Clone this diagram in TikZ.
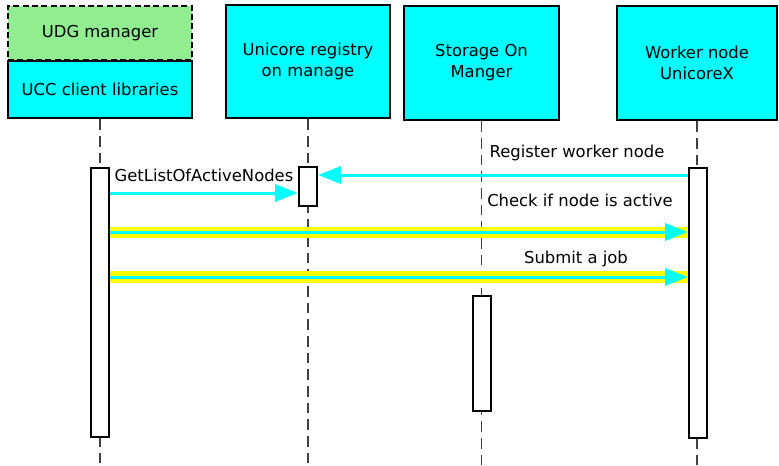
\documentclass[tikz,border=0pt]{standalone}
\usepackage{fontspec}
\setmainfont{DejaVu Sans}
\usepackage{tikz}
\usetikzlibrary{arrows.meta}
\definecolor{udggreen}{HTML}{90EE90}
\definecolor{aqua}{RGB}{0,255,255}
\definecolor{bandyellow}{RGB}{255,255,0}

\begin{document}
\begin{tikzpicture}[x=0.75pt, y=-0.75pt, font=\fontsize{12.3}{15.8}\selectfont,
  actor/.style={draw, line width=1.8pt, fill=aqua, align=center, inner sep=0pt},
  udgbox/.style={draw, line width=2pt, dash pattern=on 4.5pt off 2.5pt, fill=udggreen, inner sep=0pt},
  bar/.style={draw, line width=1.8pt, fill=white, minimum width=13.5pt, inner sep=0pt},
  life/.style={black!75, line width=1.2pt, dash pattern=on 8pt off 4.5pt},
  msg/.style={aqua, line width=2.25pt, -{Triangle[length=17pt, width=12.75pt]}},
  band/.style={bandyellow, line width=8.25pt}]
\useasboundingbox (0,0) rectangle (779,465);
\coordinate (bottom) at (0,465);

\node[udgbox, minimum width=138pt, minimum height=40.5pt] (udg) at (100,33) {UDG manager};
\node[actor, minimum width=138pt, minimum height=42.75pt] (ucc) at (100,89.5) {UCC client libraries};
\node[actor, minimum width=123pt, minimum height=84.75pt] (reg) at (308,61.5) {Unicore registry\\ on manage};
\node[actor, minimum width=116.25pt, minimum height=85.5pt] (sto) at (481.5,63) {Storage On\\ Manger};
\node[actor, minimum width=120pt, minimum height=85.5pt] (wrk) at (697,63) {Worker node\\ UnicoreX};

\foreach \a in {ucc,reg,sto,wrk}
  \draw[life] (\a.south) -- (\a.south |- bottom);

\node[bar, minimum height=201.75pt] (uccbar) at (100,302.5) {};
\node[bar, minimum height=29.25pt] (regbar) at (308,186.5) {};
\node[bar, minimum height=86.25pt] (stobar) at (482,353.5) {};
\node[bar, minimum height=202.5pt] (wrkbar) at (698,303) {};

\coordinate (m1) at (0,193);
\coordinate (m2) at (0,175);
\coordinate (m3) at (0,232);
\coordinate (m4) at (0,277);

\draw[msg] (uccbar.east |- m1) -- (regbar.west |- m1);
\draw[msg] (wrkbar.west |- m2) -- (regbar.east |- m2);
\draw[band] (uccbar.east |- m3) -- (wrkbar.west |- m3);
\draw[msg] (uccbar.east |- m3) -- (wrkbar.west |- m3);
\draw[band, line width=9pt] (uccbar.east |- m4) -- (wrkbar.west |- m4);
\draw[msg] (uccbar.east |- m4) -- (wrkbar.west |- m4);

\node (getlist) at (204,175) {GetListOfActiveNodes};
\node (register) at (577,153) {Register worker node};
\node (check) at (580,200) {Check if node is active};
\node (submit) at (576,259) {Submit a job};
\end{tikzpicture}
\end{document}
